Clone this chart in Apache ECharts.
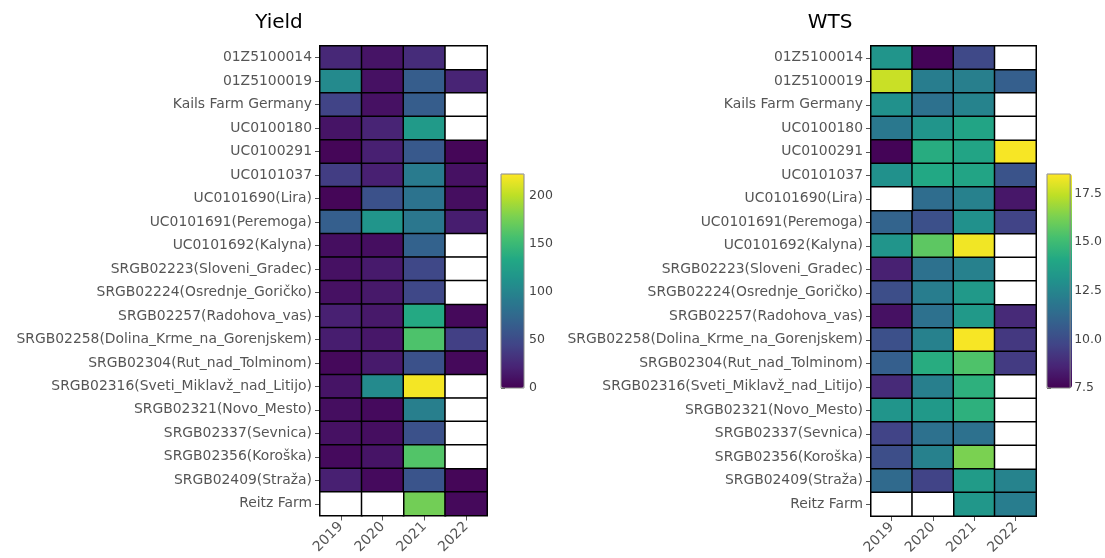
<!DOCTYPE html>
<html>
<head>
<meta charset="utf-8">
<title>Yield and WTS by accession and year</title>
<script src="https://cdn.jsdelivr.net/npm/echarts@6/dist/echarts.min.js"></script>
<style>
  html, body { margin: 0; padding: 0; background: #fff; }
  #chart { width: 1105px; height: 558px; }
</style>
</head>
<body>
<div id="chart"></div>
<script>
// Accessions (rows, top to bottom) and trial years (columns)
const accessions = [
  '01Z5100014', '01Z5100019', 'Kails Farm Germany', 'UC0100180', 'UC0100291',
  'UC0101037', 'UC0101690(Lira)', 'UC0101691(Peremoga)', 'UC0101692(Kalyna)',
  'SRGB02223(Sloveni_Gradec)', 'SRGB02224(Osrednje_Goričko)', 'SRGB02257(Radohova_vas)',
  'SRGB02258(Dolina_Krme_na_Gorenjskem)', 'SRGB02304(Rut_nad_Tolminom)',
  'SRGB02316(Sveti_Miklavž_nad_Litijo)', 'SRGB02321(Novo_Mesto)', 'SRGB02337(Sevnica)',
  'SRGB02356(Koroška)', 'SRGB02409(Straža)', 'Reitz Farm'
];
const years = ['2019', '2020', '2021', '2022'];

// Yield per year, one value per accession (null = not grown that year)
const yield2019 = [25, 105, 45, 12, 3, 40, 3, 67, 8, 10, 10, 20, 18, 5, 12, 8, 10, 6, 20, null];
const yield2020 = [12, 10, 10, 22, 20, 20, 55, 115, 8, 16, 15, 15, 14, 16, 105, 6, 8, 12, 6, null];
const yield2021 = [28, 65, 65, 120, 62, 92, 85, 88, 70, 48, 48, 135, 160, 55, 220, 95, 55, 162, 58, 175];
const yield2022 = [null, 22, null, null, 3, 10, 8, 18, null, null, null, 5, 42, 5, null, null, null, null, 3, 5];

// WTS per year, one value per accession (null = not measured that year)
const wts2019 = [13.2, 17.6, 13.0, 11.9, 7.6, 13.0, null, 11.0, 13.2, 8.5, 10.1, 8.0, 10.2, 10.8, 8.8, 13.2, 9.7, 10.1, 11.3, null];
const wts2020 = [7.6, 12.1, 11.6, 13.2, 14.3, 14.1, 11.4, 10.2, 15.7, 11.6, 12.1, 11.6, 12.3, 14.3, 12.2, 13.4, 11.6, 12.3, 9.7, null];
const wts2021 = [9.9, 12.2, 12.4, 13.9, 13.9, 13.9, 12.3, 13.0, 18.3, 12.3, 13.4, 13.4, 18.4, 15.4, 14.5, 14.5, 11.6, 16.3, 13.5, 13.3];
const wts2022 = [null, 10.8, null, null, 18.4, 10.3, 8.2, 9.7, null, null, null, 8.8, 9.3, 9.4, null, null, null, null, 12.4, 12.1];

// Colour bar ranges and tick values
const yieldRange = [0, 223];
const yieldTicks = [0, 50, 100, 150, 200];
const wtsRange = [7.5, 18.5];
const wtsTicks = [7.5, 10, 12.5, 15, 17.5];

const viridis = ['#440154', '#482475', '#414487', '#355f8d', '#2a788e', '#21918c',
                 '#22a884', '#44bf70', '#7ad151', '#bddf26', '#fde725'];

// Split the per-year columns into filled cells and empty (white) cells
function buildCells(columns) {
  const filled = [], empty = [];
  columns.forEach((col, x) => {
    col.forEach((v, y) => {
      if (v === null) empty.push([x, y, 0]);
      else filled.push([x, y, v]);
    });
  });
  return { filled, empty };
}
const yieldCells = buildCells([yield2019, yield2020, yield2021, yield2022]);
const wtsCells = buildCells([wts2019, wts2020, wts2021, wts2022]);

const FONT = 'DejaVu Sans';
const LABEL_COLOR = '#555';

function rowAxis(gridIndex) {
  return {
    type: 'category', gridIndex, data: accessions, inverse: true,
    axisLine: { show: true, lineStyle: { color: '#000', width: 1 } },
    axisTick: { show: true, alignWithLabel: true, length: 5, lineStyle: { color: '#555' } },
    axisLabel: { color: LABEL_COLOR, fontFamily: FONT, fontSize: 13.9, margin: 8 },
    splitLine: { show: false }
  };
}
function yearAxis(gridIndex) {
  return {
    type: 'category', gridIndex, data: years, position: 'bottom',
    axisLine: { show: true, lineStyle: { color: '#000', width: 1 } },
    axisTick: { show: true, alignWithLabel: true, length: 5, lineStyle: { color: '#555' } },
    axisLabel: { color: LABEL_COLOR, fontFamily: FONT, fontSize: 14, rotate: 45, margin: 9 },
    splitLine: { show: false }
  };
}
function barAxisX(gridIndex) {
  return { type: 'value', gridIndex, show: false, min: 0, max: 1 };
}
function barAxisY(gridIndex, range, ticks, digits, margin) {
  return {
    type: 'value', gridIndex, position: 'right', min: range[0], max: range[1],
    axisLine: { show: false },
    splitLine: { show: false },
    axisTick: { show: true, length: 4, lineStyle: { color: '#555' }, customValues: ticks },
    axisLabel: {
      color: '#444', fontFamily: FONT, fontSize: 12.5, margin,
      customValues: ticks,
      formatter: v => digits ? Number(v).toFixed(digits) : String(v)
    }
  };
}

const cellStyle = { borderColor: '#000', borderWidth: 1.5 };

const option = {
  animation: false,
  backgroundColor: '#fff',
  grid: [
    { left: 320, top: 46, width: 167, height: 469.5, show: true, borderColor: '#000', borderWidth: 1, backgroundColor: 'transparent' },
    { left: 871, top: 46, width: 165, height: 470, show: true, borderColor: '#000', borderWidth: 1, backgroundColor: 'transparent' },
    { left: 501, top: 174, width: 23, height: 214, show: true, borderColor: '#888', borderWidth: 1, backgroundColor: 'transparent', z: 10 },
    { left: 1047, top: 174, width: 25, height: 214, show: true, borderColor: '#888', borderWidth: 1, backgroundColor: 'transparent', z: 10 }
  ],
  xAxis: [yearAxis(0), yearAxis(1), barAxisX(2), barAxisX(3)],
  yAxis: [
    rowAxis(0), rowAxis(1),
    barAxisY(2, yieldRange, yieldTicks, 0, 5),
    barAxisY(3, wtsRange, wtsTicks, 1, 4)
  ],
  visualMap: [
    {
      type: 'continuous', seriesIndex: 0, min: yieldRange[0], max: yieldRange[1],
      orient: 'vertical', left: 501, top: 174, itemWidth: 23, itemHeight: 214,
      padding: 0, calculable: false, hoverLink: false, text: null, showLabel: false,
      inRange: { color: viridis }
    },
    {
      type: 'continuous', seriesIndex: 2, min: wtsRange[0], max: wtsRange[1],
      orient: 'vertical', left: 1047, top: 174, itemWidth: 25, itemHeight: 214,
      padding: 0, calculable: false, hoverLink: false, text: null, showLabel: false,
      inRange: { color: viridis }
    }
  ],
  graphic: [
    { type: 'text', x: 279, y: 23, style: { text: 'Yield', fill: '#000', font: '20px "DejaVu Sans"', align: 'center', verticalAlign: 'middle' } },
    { type: 'text', x: 830, y: 23, style: { text: 'WTS', fill: '#000', font: '20px "DejaVu Sans"', align: 'center', verticalAlign: 'middle' } }
  ],
  series: [
    { name: 'Yield', type: 'heatmap', xAxisIndex: 0, yAxisIndex: 0, data: yieldCells.filled, itemStyle: cellStyle, emphasis: { disabled: true } },
    { name: 'Yield n/a', type: 'heatmap', xAxisIndex: 0, yAxisIndex: 0, data: yieldCells.empty, itemStyle: Object.assign({ color: '#fff' }, cellStyle), emphasis: { disabled: true } },
    { name: 'WTS', type: 'heatmap', xAxisIndex: 1, yAxisIndex: 1, data: wtsCells.filled, itemStyle: cellStyle, emphasis: { disabled: true } },
    { name: 'WTS n/a', type: 'heatmap', xAxisIndex: 1, yAxisIndex: 1, data: wtsCells.empty, itemStyle: Object.assign({ color: '#fff' }, cellStyle), emphasis: { disabled: true } }
  ]
};

const chart = echarts.init(document.getElementById('chart'), null, { renderer: 'canvas' });
chart.setOption(option);
</script>
</body>
</html>
